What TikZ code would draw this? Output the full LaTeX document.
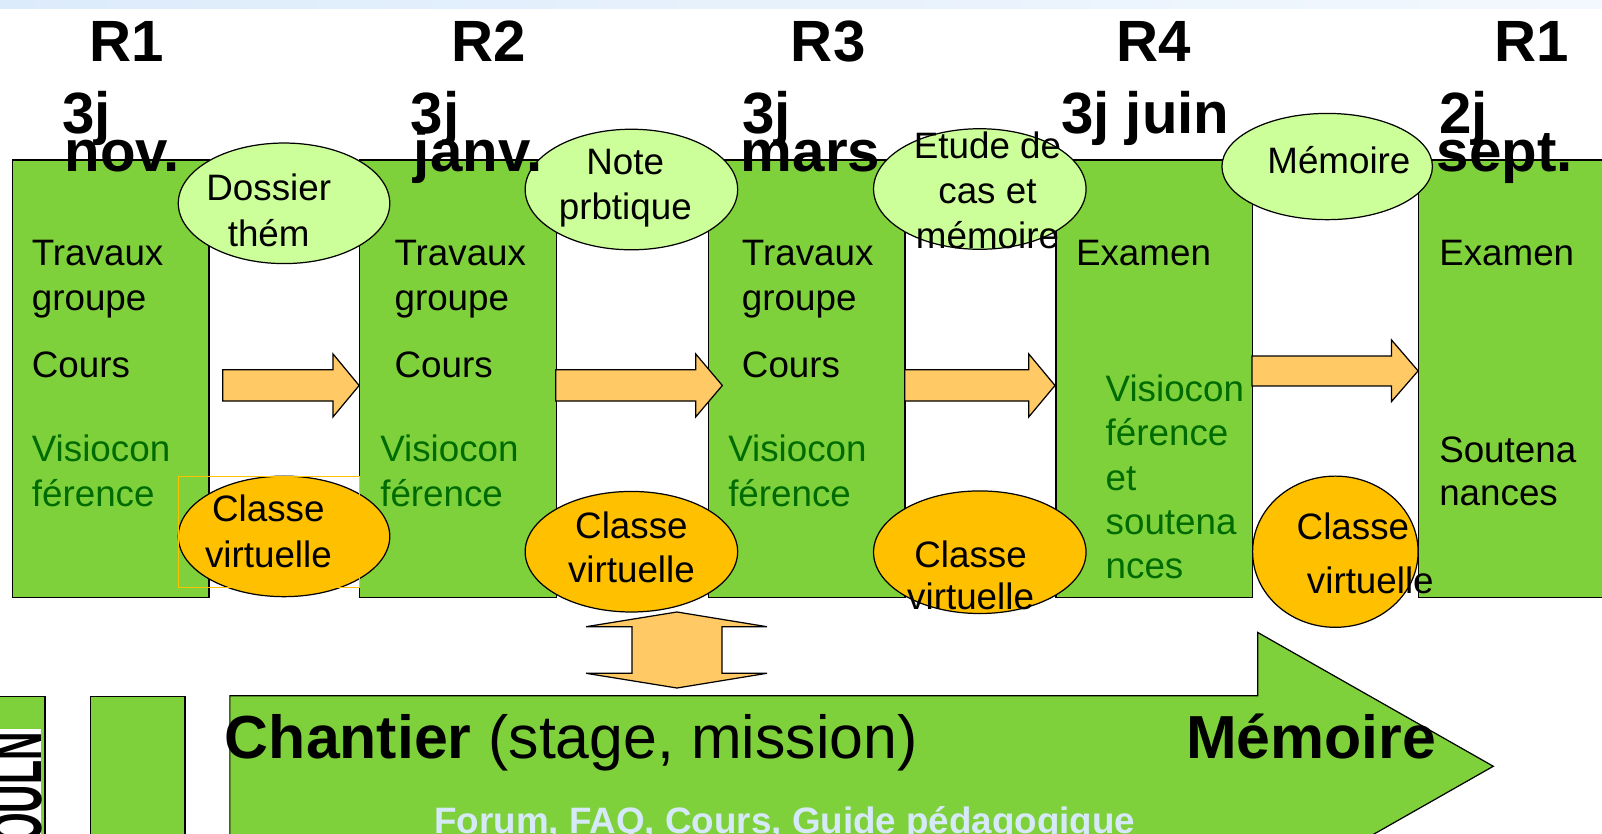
\documentclass[tikz,border=0pt]{standalone}
\usepackage{fontspec}
\setmainfont{Liberation Sans}
\newfontfamily\condfont[FakeStretch=0.55]{Liberation Sans}
\usetikzlibrary{shapes.geometric}
\definecolor{boxgreen}{HTML}{7FD13B}
\definecolor{lightgreen}{HTML}{CCFF99}
\definecolor{ellorange}{HTML}{FFC000}
\definecolor{arroworange}{HTML}{FFC966}
\definecolor{darkgreentext}{HTML}{006B00}
\definecolor{paleblue}{HTML}{D6E9F9}
\definecolor{bandblue}{HTML}{DCEBFB}
\begin{document}
\begin{tikzpicture}[x=1pt,y=-1pt,
  box/.style={draw=black, line width=1.2pt, fill=boxgreen, inner sep=0pt, anchor=north west},
  blockarrow/.style={draw=black, line width=1.2pt, fill=arroworange, line join=miter},
  topell/.style={ellipse, draw=black, line width=1.2pt, fill=lightgreen, inner sep=0pt},
  botell/.style={ellipse, draw=black, line width=1.2pt, fill=ellorange, inner sep=0pt},
  txt/.style={inner sep=0pt, anchor=base west, font=\fontsize{36}{42}\selectfont},
  ctxt/.style={inner sep=0pt, anchor=base, font=\fontsize{36}{42}\selectfont},
  vtxt/.style={txt, text=darkgreentext},
  headtxt/.style={inner sep=0pt, anchor=base west, font=\fontsize{57}{60}\selectfont\bfseries},
  bigtxt/.style={inner sep=0pt, anchor=base west, font=\fontsize{59.5}{62}\selectfont},
]
\useasboundingbox (0,0) rectangle (1568,816);
\clip (0,0) rectangle (1568,816);

% top band
\shade[left color=bandblue, right color=bandblue!35!white] (0,0) rectangle (1568,8);

% green boxes
\node[box, minimum width=192pt, minimum height=428pt] (b1) at (12,156) {};
\node[box, minimum width=192.5pt, minimum height=428pt] (b2) at (351.5,156) {};
\node[box, minimum width=192.5pt, minimum height=428pt] (b3) at (692.6,156) {};
\node[box, minimum width=192.5pt, minimum height=428pt] (b4) at (1033,156) {};
\node[box, minimum width=220pt, minimum height=428pt] (b5) at (1388,156) {};

% orange block arrows between boxes
\draw[blockarrow] (218,362) -- (326,362) -- (326,346.5) -- (351.5,377.3) -- (326,408) -- (326,392.5) -- (218,392.5) -- cycle;
\draw[blockarrow] (544,362) -- (681,362) -- (681,346.5) -- (707,377.3) -- (681,408) -- (681,392.5) -- (544,392.5) -- cycle;
\draw[blockarrow] (885.6,362) -- (1007,362) -- (1007,346.5) -- (1032.6,377.3) -- (1007,408) -- (1007,392.5) -- (885.6,392.5) -- cycle;
\draw[blockarrow] (1225.5,348.5) -- (1362,348.5) -- (1362,332.8) -- (1388,363) -- (1362,393) -- (1362,377.8) -- (1225.5,377.8) -- cycle;

% box texts
\node[txt] (t1a) at (31,260) {Travaux};
\node[txt] (t1b) at (31,304) {groupe};
\node[txt] (t1c) at (31,369) {Cours};
\node[vtxt] (t1d) at (31,452) {Visiocon};
\node[vtxt] (t1e) at (31,496) {férence};

\node[txt] (t2a) at (386,260) {Travaux};
\node[txt] (t2b) at (386,304) {groupe};
\node[txt] (t2c) at (386,369) {Cours};
\node[vtxt] (t2d) at (372,452) {Visiocon};
\node[vtxt] (t2e) at (372,496) {férence};

\node[txt] (t3a) at (726,260) {Travaux};
\node[txt] (t3b) at (726,304) {groupe};
\node[txt] (t3c) at (726,369) {Cours};
\node[vtxt] (t3d) at (712.6,452) {Visiocon};
\node[vtxt] (t3e) at (712.6,496) {férence};

\node[txt] (t4a) at (1053,259.5) {Examen};
\node[vtxt] (t4b) at (1082,393) {Visiocon};
\node[vtxt] (t4c) at (1082,436.5) {férence};
\node[vtxt] (t4d) at (1082,480) {et};
\node[vtxt] (t4e) at (1082,523.6) {soutena};
\node[vtxt] (t4f) at (1082,566.5) {nces};

\node[txt] (t5a) at (1408.5,259.5) {Examen};
\node[txt] (t5b) at (1408.5,452.8) {Soutena};
\node[txt] (t5c) at (1408.5,494.5) {nances};

% top ellipses
\node[topell, minimum width=207pt, minimum height=118pt] (e1) at (278,199) {};
\node[topell, minimum width=208pt, minimum height=118pt] (e2) at (618,185.5) {};
\node[topell, minimum width=208pt, minimum height=118pt] (e3) at (959,185) {};
\node[topell, minimum width=206pt, minimum height=104pt] (e4) at (1299,163) {};

\node[ctxt] (e1a) at (263,196.7) {Dossier};
\node[ctxt] (e1b) at (263,240.8) {thém};
\node[ctxt] (e2a) at (612,171) {Note};
\node[ctxt] (e2b) at (612,214.5) {prbtique};
\node[ctxt] (e3a) at (966.5,155) {Etude de};
\node[ctxt] (e3b) at (966.5,199) {cas et};
\node[ctxt] (e3c) at (966.5,243) {mémoire};
\node[ctxt] (e4a) at (1310.5,170) {Mémoire};

% bottom ellipses
\node[botell, minimum width=207pt, minimum height=118pt] (c1) at (278,525) {};
\node[botell, minimum width=208pt, minimum height=118pt] (c2) at (618,540) {};
\node[botell, minimum width=208pt, minimum height=120pt] (c3) at (959,540.5) {};
\node[botell, minimum width=162pt, minimum height=148pt] (c4) at (1307,540) {};
\node[draw=ellorange, line width=1pt, inner sep=0pt, anchor=north west, minimum width=177.5pt, minimum height=108.7pt] (frame) at (174,466) {};

\node[ctxt] (c1a) at (262.7,510.6) {Classe};
\node[ctxt] (c1b) at (262.7,555.6) {virtuelle};
\node[ctxt] (c2a) at (618,526.6) {Classe};
\node[ctxt] (c2b) at (618,570) {virtuelle};
\node[ctxt] (c3a) at (950,555) {Classe};
\node[ctxt] (c3b) at (950,597) {virtuelle};
\node[txt] (c4a) at (1269,527.6) {Classe};
\node[txt] (c4b) at (1279,580.5) {virtuelle};

% header texts
\node[headtxt] (h1a) at (87,60) {R1};
\node[headtxt] (h1b) at (61,130.5) {3j};
\node[headtxt] (h1c) at (63,168) {nov.};
\node[headtxt] (h2a) at (442,60) {R2};
\node[headtxt] (h2b) at (402,130.5) {3j};
\node[headtxt] (h2c) at (405,168) {janv.};
\node[headtxt] (h3a) at (774,60) {R3};
\node[headtxt] (h3b) at (726.5,130.5) {3j};
\node[headtxt] (h3c) at (725,168) {mars};
\node[headtxt] (h4a) at (1093,60) {R4};
\node[headtxt] (h4b) at (1038.5,130.5) {3j juin};
\node[headtxt] (h5a) at (1463,60) {R1};
\node[headtxt] (h5b) at (1408.5,130.5) {2j};
\node[headtxt] (h5c) at (1406,168) {sept.};

% bottom left rectangles
\node[box, minimum width=48.4pt, minimum height=150pt] (r1) at (-5,681) {};
\fill[white] (-5,714) rectangle (40.5,830);
\node[inner sep=0pt, anchor=base west, rotate=90, font=\condfont\bfseries\fontsize{70}{70}\selectfont] (logo) at (41,826) {OULN};
\node[box, minimum width=92.5pt, minimum height=150pt] (r2) at (88,681) {};

% big arrow
\draw[blockarrow, fill=boxgreen] (225,681) -- (1231,681) -- (1231,619) -- (1461.6,750) -- (1231,881) -- (1231,819) -- (225,819) -- cycle;

% double arrow
\draw[blockarrow] (662.6,599) -- (750.7,613.4) -- (706.7,613.4) -- (706.7,659) -- (750.7,659) -- (662.6,673.4) -- (573.6,659) -- (618.6,659) -- (618.6,613.4) -- (573.6,613.4) -- cycle;

% bottom texts
\node[bigtxt] (chantier) at (220,742) {\textbf{Chantier} (stage, mission)};
\node[bigtxt, font=\fontsize{59.5}{62}\selectfont\bfseries] (memoire) at (1160.8,742) {Mémoire};
\node[inner sep=0pt, anchor=base west, text=paleblue, font=\fontsize{36}{40}\selectfont\bfseries] (forum) at (425,815.5) {Forum, FAQ, Cours, Guide pédagogique};
\end{tikzpicture}
\end{document}
